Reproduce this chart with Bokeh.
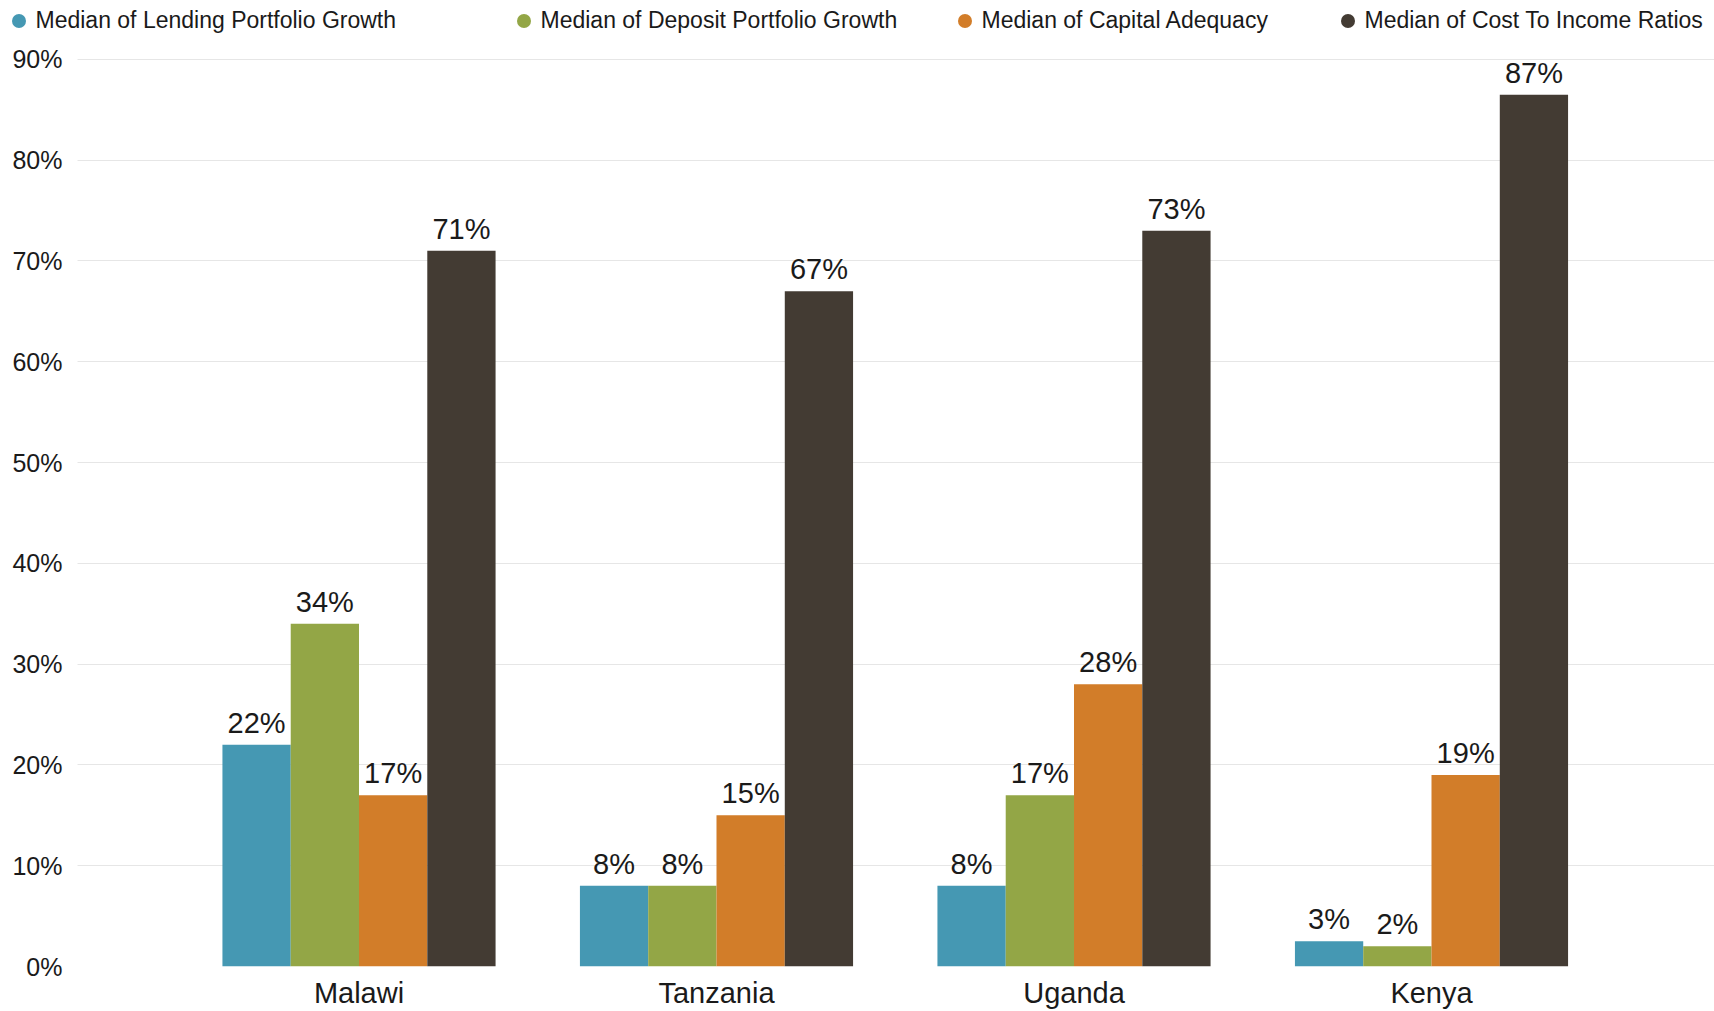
import math
from bokeh.plotting import figure
from bokeh.models import (ColumnDataSource, Range1d, Legend, LegendItem,
                          FixedTicker, NumeralTickFormatter)
from bokeh.transform import dodge
from bokeh.core.properties import value
from bokeh.embed import file_html
from bokeh.resources import INLINE

countries = ["Malawi", "Tanzania", "Uganda", "Kenya"]
series_names = ["Median of Lending Portfolio Growth", "Median of Deposit Portfolio Growth",
                "Median of Capital Adequacy", "Median of Cost To Income Ratios"]
lending = [0.22, 0.08, 0.08, 0.025]
deposit = [0.34, 0.08, 0.17, 0.02]
capital = [0.17, 0.15, 0.28, 0.19]
cost = [0.71, 0.67, 0.73, 0.865]
y_ticks = [0.0, 0.1, 0.2, 0.3, 0.4, 0.5, 0.6, 0.7, 0.8, 0.9]

colors = ["#4598B3", "#93A646", "#D27D29", "#433B33"]
FONT = "Liberation Sans"
TXT = "#1a1a1a"

def pct(v):
    return f"{int(math.floor(v * 100 + 0.5 + 1e-9))}%"

idx = list(range(len(countries)))
X0, X1 = -1.0028, 3.7916   # view extent in category-index units

p = figure(x_range=Range1d(X0, X1), y_range=Range1d(0, 0.9584), width=1714, height=1011,
           output_backend="svg", toolbar_location=None,
           min_border_left=0, min_border_right=0, min_border_top=0, min_border_bottom=44)
p.outline_line_color = None
p.background_fill_color = "white"
p.border_fill_color = "white"
p.xgrid.grid_line_color = None
p.ygrid.grid_line_color = "#e6e6e6"
p.ygrid.grid_line_width = 1.2
p.ygrid.cross_bounds = (X0 + 77 / 357.5, X1)
p.yaxis.ticker = FixedTicker(ticks=y_ticks)
p.yaxis.formatter = NumeralTickFormatter(format="0%")
p.xaxis.ticker = FixedTicker(ticks=idx)
p.xaxis.major_label_overrides = {i: c for i, c in zip(idx, countries)}
for ax in (p.xaxis, p.yaxis):
    ax.axis_line_color = None
    ax.major_tick_line_color = None
    ax.minor_tick_line_color = None
    ax.major_tick_out = 0
    ax.major_tick_in = 0
    ax.minor_tick_out = 0
    ax.minor_tick_in = 0
    ax.axis_label = None
    ax.axis_label_standoff = 0
    ax.major_label_text_font = FONT
    ax.major_label_text_color = TXT
p.yaxis.major_label_text_font_size = "25px"
p.yaxis.major_label_standoff = -62
p.xaxis.major_label_text_font_size = "29px"
p.xaxis.major_label_standoff = 10

w = 0.191
offsets = [-1.5 * w, -0.5 * w, 0.5 * w, 1.5 * w]
all_series = [lending, deposit, capital, cost]

leg_centers = [18, 523, 964, 1347]
for name, vals, off, col, cx in zip(series_names, all_series, offsets, colors, leg_centers):
    src = ColumnDataSource(dict(x=idx, v=vals, lab=[pct(v) for v in vals]))
    p.vbar(x=dodge("x", off), top="v", bottom=0, width=w, source=src,
           fill_color=col, line_color=None)
    p.text(x=dodge("x", off), y="v", text="lab", source=src,
           text_align="center", text_baseline="bottom", y_offset=-6,
           text_font=value(FONT), text_font_size=value("29px"), text_color=TXT)
    # zero-size markers: only used to give the legend its round swatch
    r = p.scatter(x=dodge("x", off), y="v", source=src, marker="circle", size=0,
                  fill_color=col, line_color=None)
    lg = Legend(items=[LegendItem(label=name, renderers=[r])],
                location=(cx - 17.5, 928), orientation="horizontal",
                glyph_width=35, glyph_height=35, label_standoff=0, padding=0, margin=0,
                spacing=0, border_line_color=None, background_fill_alpha=0,
                label_text_font=FONT, label_text_font_size="23px", label_text_color=TXT,
                label_text_baseline="middle")
    p.add_layout(lg)

open("out.html", "w").write(file_html(p, INLINE))
